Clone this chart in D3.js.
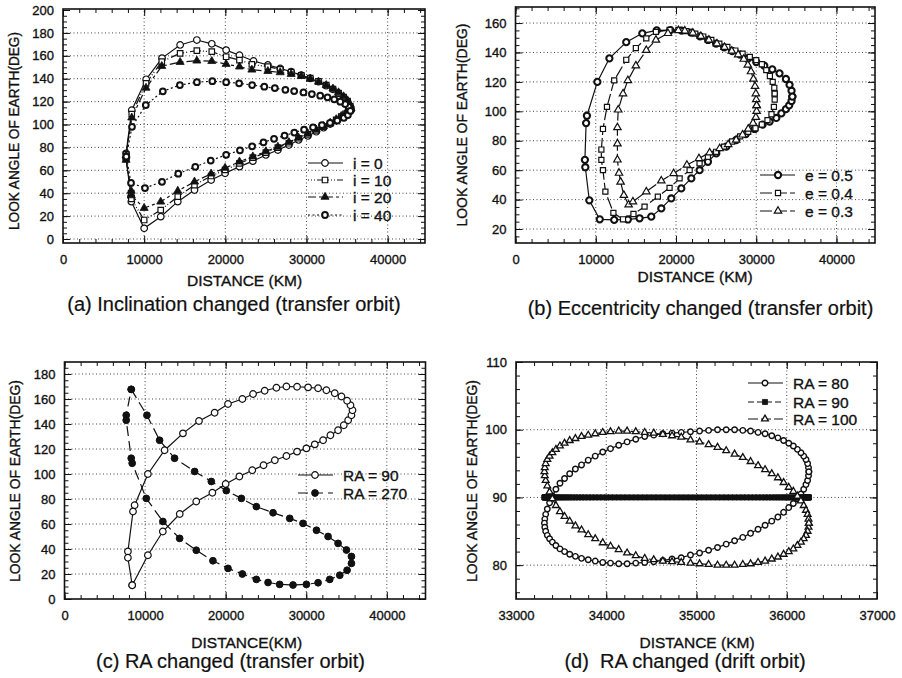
<!DOCTYPE html>
<html>
<head>
<meta charset="utf-8">
<script src="https://d3js.org/d3.v7.min.js"></script>
<style>
  body { margin: 0; background: #fff; }
  svg { font-family: "Liberation Sans", Arial, Helvetica, sans-serif; }
  text { stroke: #111; stroke-width: 0.35px; }
  .axis { font-family: "Liberation Sans", Arial, sans-serif; font-size: 13px; }
  .axis text { fill: #111; }
  .axis path.domain { display: none; }
  .axis line { stroke: #111; stroke-width: 1; }
  .grid line { stroke: #333; stroke-width: 0.9; stroke-dasharray: 1, 2.5; }
  .frame { fill: none; stroke: #111; stroke-width: 1.6; }
  .curve { fill: none; stroke: #111; stroke-width: 1.2; }
  .xtitle { font-size: 15.5px; fill: #111; }
  .ytitle { font-size: 14.5px; fill: #111; }
  .caption { font-size: 20px; fill: #111; stroke-width: 0.2px; }
  .legend text { font-size: 15.5px; fill: #111; }
</style>
</head>
<body>
<script>
// ---------- tick labels ----------
var distTicks = [0, 10000, 20000, 30000, 40000];
var yTicksA = [0, 20, 40, 60, 80, 100, 120, 140, 160, 180, 200];
var yTicksB = [20, 40, 60, 80, 100, 120, 140, 160];
var yTicksC = [0, 20, 40, 60, 80, 100, 120, 140, 160, 180];
var xTicksD = [33000, 34000, 35000, 36000, 37000];
var yTicksD = [80, 90, 100, 110];

// ---------- (a) inclination changed : [distance km, look angle deg] ----------
var incl0 = [[35470,113],[35390,115.6],[35060,120],[34570,123.7],[33950,127.2],[33260,130.7],[32430,133.9],[31480,137.4],[30460,140.3],[29350,143.2],[28110,146.1],[26760,149],[25240,152],[23470,155.5],[21740,160.5],[20100,165],[18330,170.5],[16490,173.8],[14430,169.5],[12200,158],[10250,139.5],[8470,112.5],[7770,74.8],[7770,70.4],[8380,37],[8420,32.6],[10000,9.3],[12040,19.5],[14140,32.6],[16200,42.8],[18250,51.5],[19970,57.4],[21740,63.2],[23390,68],[24990,73.4],[26470,77.7],[27830,82],[29020,86.5],[30170,90],[31200,93.7],[32100,97.2],[32920,100.4],[33660,103.3],[34280,106.3],[34810,108.9],[35230,111.2],[35470,113]];
var incl10 = [[35470,113.5],[35390,116],[35060,120.5],[34570,124],[33950,127.5],[33260,131],[32430,134.5],[31480,137.7],[30460,140.5],[29350,143],[28110,145.7],[26760,148.2],[25240,150.5],[23270,152.5],[21740,156.3],[20100,159.2],[18330,163.6],[16490,164.5],[14430,162.2],[12170,155],[10230,136],[8470,109],[7770,74],[7770,70],[8400,40],[8420,35],[10000,16.6],[12040,25.3],[14140,37],[16200,47],[18250,55],[19970,60.3],[21740,66],[23390,71],[24990,75.5],[26470,79.8],[27830,83.6],[29020,88],[30170,91.4],[31200,94.9],[32100,98.1],[32920,101],[33660,104],[34280,107],[34810,109.4],[35230,111.7],[35470,113.5]];
var incl20 = [[35470,114],[35390,117],[35060,121],[34570,124.5],[33950,128],[33260,131.3],[32430,134.3],[31480,137.3],[30460,140],[29350,142.3],[28110,144],[26760,145.5],[25240,146.6],[23270,147.8],[21740,150.5],[20100,152.8],[18330,155.3],[16490,155.7],[14430,154.5],[12170,151],[10230,132],[8470,106],[7770,73],[7770,69],[8400,42],[8420,38],[10000,27],[12040,32.5],[14140,42],[16200,50],[18250,57],[19970,62],[21740,67.5],[23390,72],[24990,76.5],[26470,80.5],[27830,84.5],[29020,88.5],[30170,92],[31200,95.5],[32100,98.5],[32920,101.5],[33660,104.5],[34280,107.3],[34810,109.8],[35230,112],[35470,114]];
var incl40 = [[35400,112],[35180,115.6],[34770,117.9],[34160,119.9],[33420,122],[32590,123.8],[31690,125.2],[30660,126.6],[29630,128],[28480,129.2],[27400,130.3],[26100,131.8],[24800,133],[23300,134.5],[21700,136],[20100,137],[18400,137.8],[16500,137],[14400,134.5],[12300,129],[10200,117],[8500,98],[7800,72],[8380,49],[10100,44.5],[12200,50],[14200,57],[16300,63],[18200,68.5],[20100,73.5],[21800,77.5],[23300,81],[24700,84.5],[26000,87.5],[27300,90.3],[28500,93],[29700,95.5],[30800,97.5],[31900,99.5],[32900,101.5],[33800,103.5],[34600,105.8],[35100,108.3],[35400,112]];

// ---------- (b) eccentricity changed ----------
var ecc05 = [[34500,110],[34400,114],[34150,118],[33700,122],[32900,125.8],[32000,128.5],[31000,131],[30000,133.5],[29000,136],[28000,138.5],[27000,141],[26000,143.5],[25000,146],[24000,148.5],[23000,151],[21900,153.5],[20700,154.8],[19300,155.2],[17600,155],[15800,153],[13800,147],[11700,136],[10200,120],[8900,97],[8800,92],[8650,67],[8700,62],[9200,39.5],[10500,26.6],[12300,26.2],[14000,26.5],[15460,27.3],[16920,28.4],[18170,34],[19410,40.8],[20660,47.6],[21910,54.4],[22940,60],[23980,65.7],[25020,71.4],[26270,76],[27500,80.5],[28700,84.5],[29800,88],[30800,91],[31670,93],[32500,95.5],[33130,98.6],[33700,101.5],[34100,104],[34400,107],[34500,110]];
var ecc04 = [[32300,112],[32250,116],[32050,120],[31700,124],[31250,128],[30700,132],[30000,134.8],[29200,137],[28300,139.2],[27400,141.3],[26400,143.7],[25400,146],[24400,148.5],[23400,150.8],[22400,152.8],[21300,154.5],[20300,155.3],[19200,155.3],[17500,154],[16300,149.6],[15000,143],[13800,135],[12300,121],[11400,103],[10900,88],[10700,74],[10700,67],[10900,60],[11200,45.4],[12200,31],[13400,26.6],[14700,30.2],[16080,35.2],[17740,42],[19200,48],[20450,54.4],[21700,60],[22940,64.6],[23980,69.1],[25000,72.5],[26000,76],[27000,79.5],[28000,83],[29000,86],[29900,88.5],[30700,91],[31400,94],[31900,98],[32200,103],[32300,108],[32300,112]];
var ecc03 = [[30050,104],[30000,108],[29950,112],[29850,117],[29650,122],[29350,127],[28950,131.5],[28450,135.5],[27750,138.5],[26950,141],[26050,143.5],[25100,146],[24100,148.5],[23100,151],[22100,153.3],[21100,154.7],[20300,155],[19000,153],[17500,148.5],[16300,141.5],[15000,131],[14000,121],[13400,112],[12800,101],[12700,89],[12700,78],[12700,67],[12900,58],[13100,52],[13500,43],[14100,36.5],[14630,38.6],[16300,45.4],[18170,52.8],[19700,57.8],[21360,63.5],[22860,68],[24190,71.9],[25440,74.8],[26500,77.5],[27500,80.5],[28300,84],[29000,88],[29600,92],[29950,96],[30050,100],[30050,104]];

// ---------- (c) RA changed, transfer orbit ----------
var raT90 = [[8400,11],[10350,35],[12200,54],[14300,68],[16350,78],[18350,85],[20000,92],[21700,98],[23300,103],[24700,107],[26100,111],[27540,114.4],[28860,117.9],[30020,120.5],[31060,123.7],[32090,127],[33000,131],[33950,135],[34660,139],[35200,143],[35610,147],[35740,151],[35490,155],[35070,158.6],[34370,162],[33540,164.6],[32500,167],[31470,168.6],[30230,169.3],[28860,169.8],[27540,170],[26300,169],[24840,166.6],[23400,164],[22070,160],[20290,156],[18630,149],[16690,142.4],[14700,132.5],[12420,119],[10350,100],[8700,75],[8500,70],[7870,38],[7870,33],[8400,11]];
var raT270 = [[8280,167.7],[10230,147],[11800,127],[13660,112.6],[16150,102],[18220,94],[20080,86.7],[21950,80.5],[23810,73.9],[25880,69],[27950,64.5],[29600,60.5],[31270,55],[32710,50],[33950,44.5],[34990,39.2],[35610,34],[35610,28.5],[35070,23],[34160,19],[32920,15.7],[31470,13],[30020,11.7],[28360,11.2],[26700,11.7],[25260,13.2],[23810,15.7],[22070,20],[20290,24.5],[18420,30.6],[16350,39],[14290,48.5],[12210,62],[10150,80.5],[8400,108.6],[8280,112.6],[7660,143],[7660,147],[8280,167.7]];

// ---------- (d) RA changed, drift orbit ----------
var raD80 = [[36245,93.8],[36241,94.4],[36231,95.0],[36213,95.6],[36188,96.1],[36157,96.6],[36118,97.1],[36073,97.6],[36022,98.0],[35965,98.4],[35902,98.8],[35834,99.1],[35760,99.4],[35682,99.6],[35599,99.8],[35513,99.9],[35422,100.0],[35329,100.0],[35233,100.0],[35134,99.9],[35034,99.8],[34933,99.7],[34831,99.6],[34729,99.5],[34627,99.4],[34526,99.2],[34426,99.0],[34327,98.6],[34231,98.2],[34138,97.7],[34047,97.2],[33961,96.7],[33878,96.1],[33800,95.5],[33726,94.8],[33658,94.2],[33595,93.5],[33538,92.8],[33487,92.1],[33442,91.2],[33403,90.2],[33372,89.2],[33347,88.3],[33329,87.5],[33319,86.8],[33315,86.2],[33319,85.6],[33329,85.0],[33347,84.4],[33372,83.9],[33403,83.4],[33442,82.9],[33487,82.4],[33538,82.0],[33595,81.6],[33658,81.3],[33726,81.0],[33800,80.8],[33878,80.6],[33961,80.4],[34047,80.3],[34138,80.2],[34231,80.2],[34327,80.3],[34426,80.4],[34526,80.5],[34627,80.7],[34729,80.9],[34831,81.1],[34933,81.5],[35034,81.8],[35134,82.2],[35233,82.6],[35329,83.1],[35422,83.6],[35513,84.1],[35599,84.7],[35682,85.3],[35760,85.9],[35834,86.5],[35902,87.1],[35965,87.8],[36022,88.5],[36073,89.1],[36118,89.8],[36157,90.5],[36188,91.2],[36213,91.9],[36231,92.5],[36241,93.2],[36245,93.8]];
var raD100 = [[36245,86.2],[36241,85.6],[36231,85.0],[36213,84.4],[36188,83.9],[36157,83.4],[36118,82.9],[36073,82.4],[36022,82.0],[35965,81.6],[35902,81.2],[35834,80.9],[35760,80.6],[35682,80.4],[35599,80.2],[35513,80.1],[35422,80.0],[35329,80.0],[35233,80.0],[35134,80.1],[35034,80.2],[34933,80.3],[34831,80.4],[34729,80.5],[34627,80.6],[34526,80.8],[34426,81.0],[34327,81.4],[34231,81.8],[34138,82.3],[34047,82.8],[33961,83.3],[33878,83.9],[33800,84.5],[33726,85.2],[33658,85.8],[33595,86.5],[33538,87.2],[33487,87.9],[33442,88.8],[33403,89.8],[33372,90.8],[33347,91.7],[33329,92.5],[33319,93.2],[33315,93.8],[33319,94.4],[33329,95.0],[33347,95.6],[33372,96.1],[33403,96.6],[33442,97.1],[33487,97.6],[33538,98.0],[33595,98.4],[33658,98.7],[33726,99.0],[33800,99.2],[33878,99.4],[33961,99.6],[34047,99.7],[34138,99.8],[34231,99.8],[34327,99.7],[34426,99.6],[34526,99.5],[34627,99.3],[34729,99.1],[34831,98.9],[34933,98.5],[35034,98.2],[35134,97.8],[35233,97.4],[35329,96.9],[35422,96.4],[35513,95.9],[35599,95.3],[35682,94.7],[35760,94.1],[35834,93.5],[35902,92.9],[35965,92.2],[36022,91.5],[36073,90.9],[36118,90.2],[36157,89.5],[36188,88.8],[36213,88.1],[36231,87.5],[36241,86.8],[36245,86.2]];
var raD90 = [[36245,90],[36241,90],[36231,90],[36213,90],[36188,90],[36157,90],[36118,90],[36073,90],[36022,90],[35965,90],[35902,90],[35834,90],[35760,90],[35682,90],[35599,90],[35513,90],[35422,90],[35329,90],[35233,90],[35134,90],[35034,90],[34933,90],[34831,90],[34729,90],[34627,90],[34526,90],[34426,90],[34327,90],[34231,90],[34138,90],[34047,90],[33961,90],[33878,90],[33800,90],[33726,90],[33658,90],[33595,90],[33538,90],[33487,90],[33442,90],[33403,90],[33372,90],[33347,90],[33329,90],[33319,90],[33315,90],[33316,90],[33323,90],[33337,90],[33359,90],[33387,90],[33422,90],[33463,90],[33511,90],[33566,90],[33626,90],[33691,90],[33762,90],[33838,90],[33919,90],[34004,90],[34092,90],[34184,90],[34279,90],[34376,90],[34475,90],[34576,90],[34678,90],[34780,90],[34882,90],[34984,90],[35085,90],[35184,90],[35281,90],[35376,90],[35468,90],[35556,90],[35641,90],[35722,90],[35798,90],[35869,90],[35934,90],[35994,90],[36049,90],[36097,90],[36138,90],[36173,90],[36201,90],[36223,90],[36237,90],[36244,90]];

var svg = d3.select("body").append("svg")
    .attr("width", 902)
    .attr("height", 678);

var shapeOf = { circle: d3.symbolCircle, square: d3.symbolSquare, triangle: d3.symbolTriangle };

function markerPath(m) {
    return d3.symbol(shapeOf[m.shape], m.size)();
}

function drawPanel(p) {
    var x = d3.scaleLinear().domain(p.xDomain).range(p.xRange);
    var y = d3.scaleLinear().domain(p.yDomain).range(p.yRange);
    var left = p.xRange[0], right = p.xRange[1];
    var bottom = p.yRange[0], top = p.yRange[1];
    var g = svg.append("g");

    // dotted grid at the major ticks
    var grid = g.append("g").attr("class", "grid");
    grid.selectAll(".gx").data(p.xGrid).join("line").attr("class", "gx")
        .attr("x1", d => x(d)).attr("x2", d => x(d))
        .attr("y1", bottom).attr("y2", top);
    grid.selectAll(".gy").data(p.yGrid).join("line").attr("class", "gy")
        .attr("y1", d => y(d)).attr("y2", d => y(d))
        .attr("x1", left).attr("x2", right);

    // minor ticks on all four sides, pointing in
    var minor = 4, major = 7;
    g.append("g").attr("class", "axis").attr("transform", `translate(0,${bottom})`)
        .call(d3.axisBottom(x).tickValues(p.xMinor).tickSize(-minor).tickFormat(""));
    g.append("g").attr("class", "axis").attr("transform", `translate(0,${top})`)
        .call(d3.axisTop(x).tickValues(p.xMinor).tickSize(-minor).tickFormat(""));
    g.append("g").attr("class", "axis").attr("transform", `translate(${left},0)`)
        .call(d3.axisLeft(y).tickValues(p.yMinor).tickSize(-minor).tickFormat(""));
    g.append("g").attr("class", "axis").attr("transform", `translate(${right},0)`)
        .call(d3.axisRight(y).tickValues(p.yMinor).tickSize(-minor).tickFormat(""));

    // major ticks + labels
    g.append("g").attr("class", "axis").attr("transform", `translate(0,${bottom})`)
        .call(d3.axisBottom(x).tickValues(p.xTicks).tickSize(-major).tickPadding(12).tickFormat(d3.format("d")));
    g.append("g").attr("class", "axis").attr("transform", `translate(0,${top})`)
        .call(d3.axisTop(x).tickValues(p.xTicks).tickSize(-major).tickFormat(""));
    g.append("g").attr("class", "axis").attr("transform", `translate(${left},0)`)
        .call(d3.axisLeft(y).tickValues(p.yTicks).tickSize(-major).tickPadding(9).tickFormat(d3.format("d")));
    g.append("g").attr("class", "axis").attr("transform", `translate(${right},0)`)
        .call(d3.axisRight(y).tickValues(p.yTicks).tickSize(-major).tickFormat(""));

    g.append("rect").attr("class", "frame")
        .attr("x", left).attr("y", top)
        .attr("width", right - left).attr("height", bottom - top);

    var line = d3.line().x(d => x(d[0])).y(d => y(d[1]));

    p.series.forEach(s => {
        g.append("path").datum(s.data).attr("class", "curve")
            .attr("d", line)
            .attr("stroke-dasharray", s.dash);
    });
    p.series.forEach(s => {
        g.append("g").selectAll("path").data(s.data).join("path")
            .attr("transform", d => `translate(${x(d[0])},${y(d[1])})`)
            .attr("d", markerPath(s.m))
            .attr("fill", s.m.fill)
            .attr("stroke", "#111")
            .attr("stroke-width", s.m.sw);
    });

    // legend
    var lg = g.append("g").attr("class", "legend");
    p.series.forEach((s, i) => {
        var ly = p.legend.rows[i];
        lg.append("line")
            .attr("x1", p.legend.x1).attr("x2", p.legend.x2)
            .attr("y1", ly).attr("y2", ly)
            .attr("stroke", "#111").attr("stroke-width", 1.2)
            .attr("stroke-dasharray", s.dash);
        lg.append("path")
            .attr("transform", `translate(${p.legend.mx},${ly})`)
            .attr("d", markerPath(s.m))
            .attr("fill", s.m.fill).attr("stroke", "#111").attr("stroke-width", s.m.sw);
        lg.append("text")
            .attr("x", p.legend.tx).attr("y", ly).attr("dy", "0.36em")
            .text(s.name);
    });

    // titles
    g.append("text").attr("class", "xtitle")
        .attr("x", p.xTitle[0]).attr("y", p.xTitle[1])
        .attr("text-anchor", "middle").text(p.xLabel);
    g.append("text").attr("class", "ytitle")
        .attr("transform", `translate(${p.yTitle[0]},${p.yTitle[1]}) rotate(-90)`)
        .attr("text-anchor", "middle")
        .attr("textLength", p.yTitle[2]).attr("lengthAdjust", "spacingAndGlyphs")
        .text("LOOK ANGLE OF EARTH(DEG)");
    g.append("text").attr("class", "caption")
        .attr("x", p.caption[0]).attr("y", p.caption[1])
        .attr("text-anchor", "middle")
        .style("white-space", "pre")
        .text(p.captionText);
}

var openCircle = { shape: "circle", size: 34, fill: "#fff", sw: 1.2 };
var boldCircle = { shape: "circle", size: 26, fill: "#fff", sw: 2 };

// (a)
drawPanel({
    xDomain: [0, 44600], xRange: [63, 425],
    yDomain: [-3.5, 200.9], yRange: [243, 9],
    xTicks: distTicks, yTicks: yTicksA,
    xMinor: d3.range(0, 44600, 2000), yMinor: d3.range(0, 201, 5),
    xGrid: [10000, 20000, 30000, 40000], yGrid: [0, 20, 40, 60, 80, 100, 120, 140, 160, 180],
    series: [
        { name: "i = 0", data: incl0, dash: null, m: openCircle },
        { name: "i = 10", data: incl10, dash: "1,2,1,2,1,2,8,3", m: { shape: "square", size: 30, fill: "#fff", sw: 1.2 } },
        { name: "i = 20", data: incl20, dash: "8,3,3,3", m: { shape: "triangle", size: 28, fill: "#111", sw: 0.8 } },
        { name: "i = 40", data: incl40, dash: "2,2.5", m: boldCircle }
    ],
    legend: { x1: 308, x2: 343, mx: 325, tx: 353, rows: [163, 180, 197, 215] },
    xLabel: "DISTANCE (KM)", xTitle: [244.5, 286],
    yTitle: [19, 131, 198],
    caption: [234, 311], captionText: "(a) Inclination changed (transfer orbit)"
});

// (b)
drawPanel({
    xDomain: [0, 44800], xRange: [515.5, 875],
    yDomain: [10.5, 170.9], yRange: [243, 7],
    xTicks: distTicks, yTicks: yTicksB,
    xMinor: d3.range(0, 44800, 2000), yMinor: d3.range(15, 171, 5),
    xGrid: [10000, 20000, 30000, 40000], yGrid: [20, 40, 60, 80, 100, 120, 140, 160],
    series: [
        { name: "e = 0.5", data: ecc05, dash: null, m: { shape: "circle", size: 30, fill: "#fff", sw: 2.1 } },
        { name: "e = 0.4", data: ecc04, dash: "12,3", m: { shape: "square", size: 26, fill: "#fff", sw: 1.2 } },
        { name: "e = 0.3", data: ecc03, dash: "12,3", m: { shape: "triangle", size: 24, fill: "#fff", sw: 1.2 } }
    ],
    legend: { x1: 760, x2: 795, mx: 778, tx: 805, rows: [175, 193, 211] },
    xLabel: "DISTANCE (KM)", xTitle: [695, 282],
    yTitle: [467, 125, 203],
    caption: [700.5, 315], captionText: "(b) Eccentricity changed (transfer orbit)"
});

// (c)
drawPanel({
    xDomain: [0, 44800], xRange: [64.5, 425.5],
    yDomain: [0, 189.6], yRange: [599, 362],
    xTicks: distTicks, yTicks: yTicksC,
    xMinor: d3.range(0, 44800, 2000), yMinor: d3.range(0, 190, 5),
    xGrid: [10000, 20000, 30000, 40000], yGrid: [20, 40, 60, 80, 100, 120, 140, 160, 180],
    series: [
        { name: "RA = 90", data: raT90, dash: null, m: openCircle },
        { name: "RA = 270", data: raT270, dash: "10,5", m: { shape: "circle", size: 36, fill: "#111", sw: 1 } }
    ],
    legend: { x1: 298, x2: 333, mx: 315, tx: 343, rows: [475, 493] },
    xLabel: "DISTANCE(KM)", xTitle: [246.7, 648],
    yTitle: [20, 481, 202],
    caption: [230.5, 668], captionText: "(c) RA changed (transfer orbit)"
});

// (d)
drawPanel({
    xDomain: [33000, 37000], xRange: [516, 877],
    yDomain: [75, 110], yRange: [599, 362],
    xTicks: xTicksD, yTicks: yTicksD,
    xMinor: d3.range(33000, 37001, 200), yMinor: d3.range(76, 110.1, 2),
    xGrid: [34000, 35000, 36000], yGrid: [80, 90, 100],
    series: [
        { name: "RA = 80", data: raD80, dash: null, m: { shape: "circle", size: 24, fill: "#fff", sw: 1.4 } },
        { name: "RA = 90", data: raD90, dash: "6,3", m: { shape: "square", size: 26, fill: "#111", sw: 0.8 } },
        { name: "RA = 100", data: raD100, dash: "10,3", m: { shape: "triangle", size: 20, fill: "#fff", sw: 1.3 } }
    ],
    legend: { x1: 748, x2: 783, mx: 765, tx: 793, rows: [383, 402, 419] },
    xLabel: "DISTANCE (KM)", xTitle: [697, 648],
    yTitle: [477, 481, 202],
    caption: [685, 668], captionText: "(d)  RA changed (drift orbit)"
});
</script>
</body>
</html>
